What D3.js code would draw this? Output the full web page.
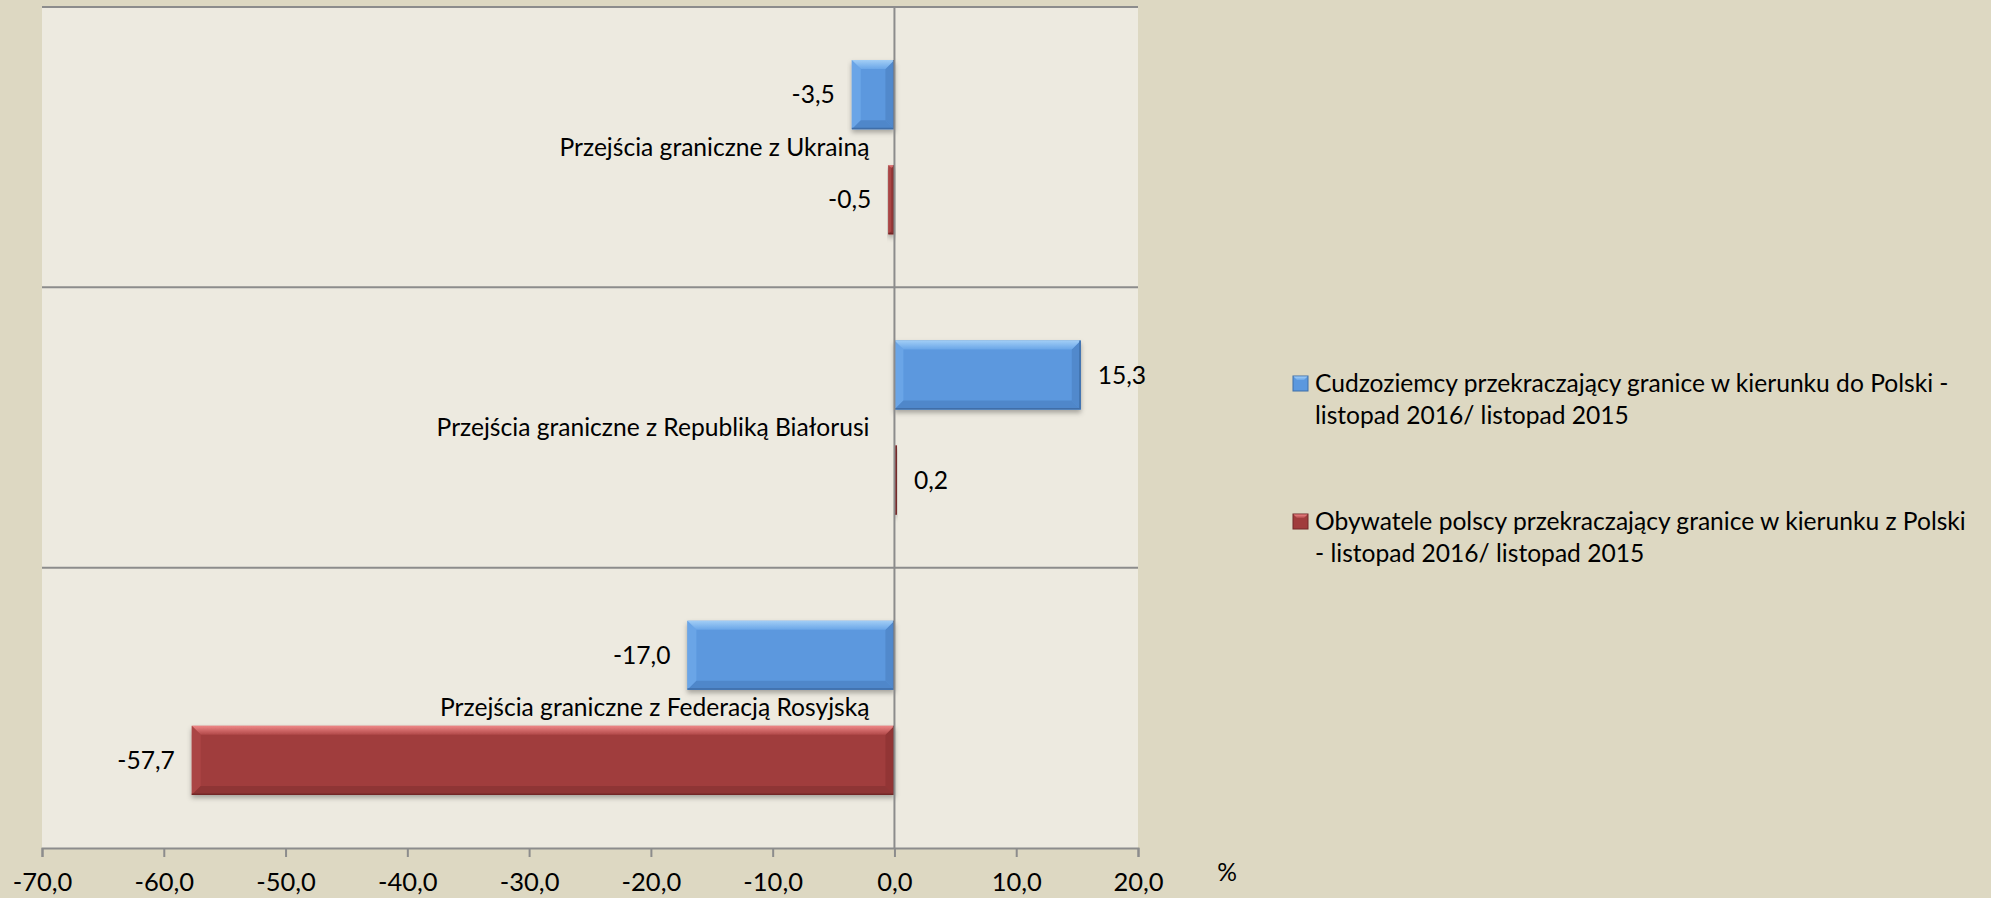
<!DOCTYPE html>
<html>
<head>
  <meta charset="utf-8">
  <title>Przejścia graniczne</title>
  <script src="https://d3js.org/d3.v7.min.js"></script>
  <style>
    body { margin: 0; background: #ddd8c2; }
    svg { display: block; background: #ddd8c2; font-family: Lato, "Open Sans", sans-serif; }
    .lbl { font-size: 24.6px; fill: #000; }
  </style>
</head>
<body>
<div id="chart"></div>
<script>
  // data, top to bottom as drawn
  var categories = ["Przejścia graniczne z Ukrainą",
                    "Przejścia graniczne z Republiką Białorusi",
                    "Przejścia graniczne z Federacją Rosyjską"];
  var seriesKeys = ["cudz", "obyw"];
  var seriesNames = [["Cudzoziemcy przekraczający granice w kierunku do Polski -", "listopad 2016/ listopad 2015"],
                     ["Obywatele polscy przekraczający granice w kierunku z Polski", "- listopad 2016/ listopad 2015"]];
  var foreigners = [-3.5, 15.3, -17.0];
  var polish = [-0.5, 0.2, -57.7];
  var xTicks = [-70, -60, -50, -40, -30, -20, -10, 0, 10, 20];

  var width = 1991, height = 898;
  var plot = {left: 42, right: 1138, top: 7, bottom: 848};

  var pl = d3.formatLocale({decimal: ",", thousands: " ", grouping: [3], currency: ["", " zł"], minus: "-"});
  var fmt = pl.format(".1f");

  var colors = {
    cudz: {base: "#5b98de", top: ["#a2cef6", "#6aa6e8"], left: "#6aa5e7", right: "#5189cc", bottom: "#4f87ca", edge: "#3f6ea8"},
    obyw: {base: "#a03c3c", top: ["#ee8686", "#b04848"], left: "#aa4444", right: "#923636", bottom: "#8e3434", edge: "#722828"}
  };

  var svg = d3.select("#chart").append("svg")
    .attr("width", width).attr("height", height);

  var defs = svg.append("defs");
  var f = defs.append("filter").attr("id", "shadow")
    .attr("x", "-10%").attr("y", "-20%").attr("width", "130%").attr("height", "160%");
  f.append("feDropShadow").attr("dx", 0).attr("dy", 3).attr("stdDeviation", 2.5)
    .attr("flood-color", "#000").attr("flood-opacity", 0.3);
  seriesKeys.forEach(function(k){
    var g = defs.append("linearGradient").attr("id", "top-" + k)
      .attr("x1", 0).attr("y1", 0).attr("x2", 0).attr("y2", 1);
    g.append("stop").attr("offset", "0%").attr("stop-color", colors[k].top[0]);
    g.append("stop").attr("offset", "100%").attr("stop-color", colors[k].top[1]);
  });

  var x = d3.scaleLinear().domain([-70, 20]).range([plot.left, plot.right]);
  var y = d3.scaleBand().domain(categories).range([plot.top, plot.bottom]);
  var ys = d3.scaleBand().domain(seriesKeys).range([0, y.bandwidth()])
    .paddingInner(0.343).paddingOuter(0.505);

  // plot area
  svg.append("rect")
    .attr("x", plot.left).attr("y", plot.top)
    .attr("width", plot.right - plot.left).attr("height", plot.bottom - plot.top)
    .attr("fill", "#edeae0");

  // category separators
  svg.selectAll("line.sep")
    .data(categories)
    .enter().append("line")
    .attr("class", "sep")
    .attr("x1", plot.left).attr("x2", plot.right)
    .attr("y1", function(d){ return y(d); })
    .attr("y2", function(d){ return y(d); })
    .attr("stroke", "#8c8c8c").attr("stroke-width", 2);

  var bars = [];
  categories.forEach(function(c, i){
    bars.push({cat: c, key: "cudz", value: foreigners[i]});
    bars.push({cat: c, key: "obyw", value: polish[i]});
  });

  function pts(a){ return a.map(function(p){ return p.join(","); }).join(" "); }

  svg.selectAll("g.bar")
    .data(bars)
    .enter().append("g")
    .attr("class", "bar")
    .attr("filter", "url(#shadow)")
    .each(function(d){
      var g = d3.select(this);
      var x0 = Math.min(x(0), x(d.value)), x1 = Math.max(x(0), x(d.value));
      var y0 = y(d.cat) + ys(d.key), y1 = y0 + ys.bandwidth();
      var b = Math.min(9, (x1 - x0) / 2, (y1 - y0) / 2);
      var c = colors[d.key];
      g.append("rect").attr("x", x0).attr("y", y0).attr("width", x1 - x0).attr("height", y1 - y0)
        .attr("fill", c.base);
      g.append("polygon").attr("points", pts([[x0, y0], [x0 + b, y0 + b], [x0 + b, y1 - b], [x0, y1]]))
        .attr("fill", c.left);
      g.append("polygon").attr("points", pts([[x1, y0], [x1 - b, y0 + b], [x1 - b, y1 - b], [x1, y1]]))
        .attr("fill", c.right);
      g.append("polygon").attr("points", pts([[x0, y1], [x1, y1], [x1 - b, y1 - b], [x0 + b, y1 - b]]))
        .attr("fill", c.bottom);
      g.append("polygon").attr("points", pts([[x0, y0], [x1, y0], [x1 - b, y0 + b], [x0 + b, y0 + b]]))
        .attr("fill", "url(#top-" + d.key + ")");
      // darker lower and right edge
      g.append("path")
        .attr("d", "M" + x0 + "," + (y1 - 0.75) + "H" + (x1 - 0.75) + "V" + y0)
        .attr("fill", "none").attr("stroke", c.edge).attr("stroke-width", 1.5);
    });

  // value labels
  svg.selectAll("text.val")
    .data(bars)
    .enter().append("text")
    .attr("class", "lbl val")
    .attr("x", function(d){ return d.value < 0 ? x(d.value) - 17 : x(d.value) + 17; })
    .attr("y", function(d){ return y(d.cat) + ys(d.key) + ys.bandwidth() / 2; })
    .attr("dy", "0.35em")
    .attr("text-anchor", function(d){ return d.value < 0 ? "end" : "start"; })
    .text(function(d){ return fmt(d.value); });

  // zero line
  svg.append("line")
    .attr("x1", x(0)).attr("x2", x(0))
    .attr("y1", plot.top).attr("y2", plot.bottom)
    .attr("stroke", "#8c8c8c").attr("stroke-width", 2);

  // category labels
  svg.selectAll("text.cat")
    .data(categories)
    .enter().append("text")
    .attr("class", "lbl cat")
    .attr("x", x(0) - 25)
    .attr("y", function(d){ return y(d) + y.bandwidth() / 2; })
    .attr("dy", "0.35em")
    .attr("text-anchor", "end")
    .text(function(d){ return d; });

  // x axis
  var axis = svg.append("g")
    .attr("class", "axis")
    .attr("transform", "translate(0," + plot.bottom + ")")
    .call(d3.axisBottom(x).tickValues(xTicks).tickFormat(fmt).tickSize(9).tickSizeOuter(9));
  axis.select(".domain").attr("stroke", "#8c8c8c").attr("stroke-width", 2);
  axis.selectAll(".tick line").attr("stroke", "#8c8c8c").attr("stroke-width", 2);
  axis.selectAll(".tick text").attr("y", 34).attr("dy", "0.35em")
    .style("font-family", "Lato, sans-serif").style("font-size", "25.5px").attr("fill", "#000");

  svg.append("text").attr("class", "lbl")
    .attr("x", 1227).attr("y", 872).attr("dy", "0.35em")
    .attr("text-anchor", "middle").text("%");

  // legend
  var legend = svg.selectAll("g.legend")
    .data(seriesKeys)
    .enter().append("g")
    .attr("class", "legend")
    .attr("transform", function(d, i){ return "translate(1293," + (i === 0 ? 383 : 521) + ")"; });
  legend.append("rect")
    .attr("x", 0).attr("y", -7).attr("width", 15).attr("height", 15)
    .attr("fill", function(d){ return colors[d].base; })
    .attr("stroke", function(d){ return colors[d].edge; }).attr("stroke-width", 1);
  legend.append("polygon")
    .attr("points", "0.5,-6.5 14.5,-6.5 11,-3 4,-3")
    .attr("fill", function(d){ return "url(#top-" + d + ")"; });
  legend.append("text")
    .attr("class", "lbl")
    .attr("x", 22).attr("y", 0)
    .selectAll("tspan")
    .data(function(d, i){ return seriesNames[i]; })
    .enter().append("tspan")
    .attr("x", 22)
    .attr("y", function(d, j){ return j * 32; })
    .attr("dy", "0.35em")
    .text(function(d){ return d; });
</script>
</body>
</html>
